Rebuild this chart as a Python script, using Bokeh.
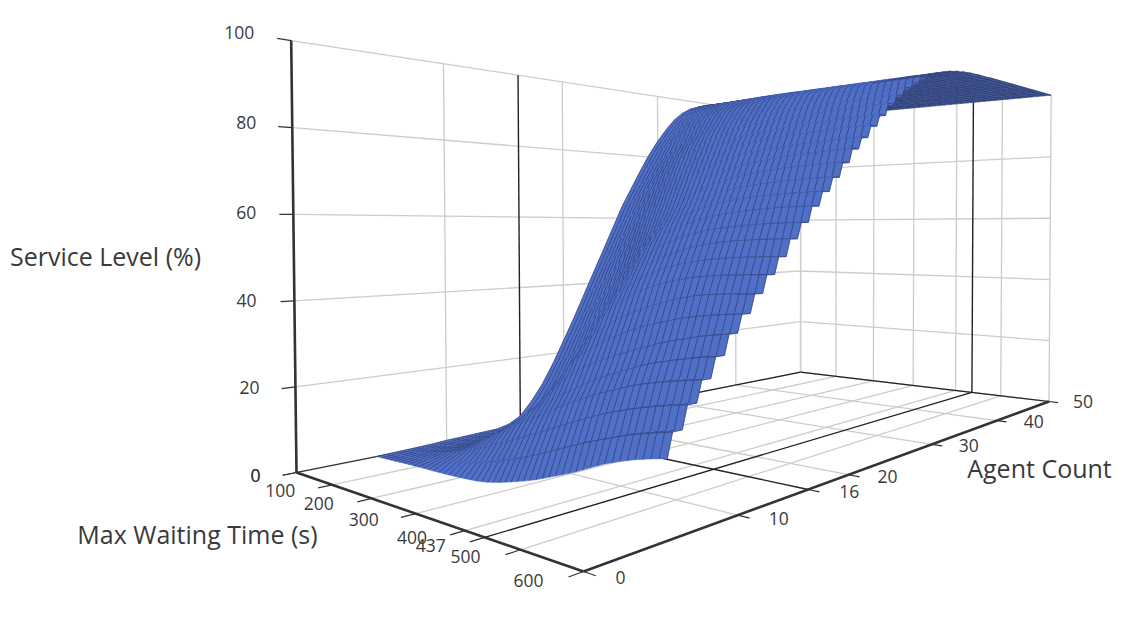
from bokeh.plotting import figure
from bokeh.embed import file_html
from bokeh.resources import INLINE
from bokeh.core.properties import value
import numpy as np

# ---- data -----------------------------------------------------------------
wait_ticks = [0, 100, 200, 300, 400, 500, 600]
agent_ticks = [0, 10, 20, 30, 40, 50]
level_ticks = [0, 20, 40, 60, 80, 100]
pointer_wait = 437
pointer_agent = 16
wait_values = [0, 25, 50, 75, 100, 125, 150, 175, 200, 225, 250, 275, 300, 325, 350, 375, 400, 425, 450, 475, 500, 525, 550, 575, 600]
agent_values = [5, 6, 7, 8, 9, 10, 11, 12, 13, 14, 15, 16, 17, 18, 19, 20, 21, 22, 23, 24, 25, 26, 27, 28, 29, 30, 31, 32, 33, 34, 35, 36, 38, 40, 42, 44, 46, 48, 50]
a05 = [0,.1,.2,.3,.4,.45,.5,.55,.65,.8,1,1.4,2.1,2.9,3.8,4.8,6,7.2,8.5,10,11.4,12.5,13.5,14.3,15]
a06 = [.1,.2,.4,.7,1.1,1.5,2,2.5,3.1,3.8,4.6,5.5,6.5,7.5,8.7,10,11.3,12.6,13.9,15,16.1,17.2,18.1,18.9,19.6]
a07 = [.2,.4,.7,1.2,1.9,2.7,3.6,4.6,5.7,7,8.2,9.5,10.8,12.1,13.5,14.9,16.3,17.6,18.9,20,21,21.9,22.7,23.4,24]
a08 = [.3,.5,.9,1.5,2.3,3.4,4.7,6.4,8.2,10,11.8,13.3,14.8,16.5,18.1,19.6,21,22.3,23.4,24.6,25.5,26.3,27,27.6,28.1]
a09 = [.4,.6,1,1.6,2.6,3.9,5.5,7.5,9.8,12,14.2,16.2,18,19.8,21.6,23.2,24.7,26,27.2,28.4,29.4,30.2,30.9,31.6,32.1]
a10 = [.6,.8,1.2,1.9,2.9,4.2,6,8.4,11.2,13.8,16.8,19.8,22.5,24.6,26.2,27.7,29,30.2,31.3,32.4,33.4,34.2,35,35.6,36.1]
a11 = [.7,.9,1.4,2.2,3.3,4.8,6.9,9.6,13,16.6,20.4,24,27,29.2,31,32.6,34,35.2,36.2,37.1,37.9,38.5,39,39.4,39.7]
a12 = [.8,1,1.6,2.5,3.7,5.4,7.7,11,15.2,19.6,23.8,27.8,31.5,33.8,35.7,37.3,38.6,39.8,40.8,41.7,42.4,42.8,43.1,43.3,43.5]
a13 = [.9,1.2,1.9,2.9,4.3,6.2,9,13,18,23.4,28.4,32.8,36.4,38.8,40.8,42.4,43.6,44.6,45.4,46,46.4,46.7,46.9,47.1,47.2]
a14 = [1,1.5,2.4,3.6,5.3,7.6,11,15.6,21.4,27.4,33,37.4,40.6,43,45,46.4,47.6,48.5,49.2,49.7,50.1,50.4,50.6,50.7,50.8]
a15 = [1.7,2.3,3.4,5,7.2,10,13.8,19,25.4,31.6,37.2,41.6,44.8,47.1,48.9,50.3,51.4,52.3,53,53.5,53.9,54.1,54.3,54.4,54.5]
a16 = [3.4,4,5.2,7.2,10,13.4,18,23.6,30,36.4,42,46,49,51.2,52.9,54.2,55.2,56,56.6,57,57.3,57.6,57.8,57.9,58]
a17 = [7.1,7.7,9,11.2,14.2,18.2,23.6,29.6,36,42,46.8,50.4,53.2,55.2,56.8,58,58.9,59.6,60.2,60.6,60.9,61.2,61.4,61.5,61.6]
a18 = [11.6,12.6,14.5,17.2,20.5,24.7,30,35.8,41.6,46.8,51,54.4,57,59,60.4,61.5,62.4,63.1,63.6,64,64.3,64.5,64.7,64.8,64.9]
a19 = [17.2,18.4,20.4,23.2,26.6,30.8,35.8,41.2,46.4,51,55,58.2,60.6,62.4,63.8,64.9,65.8,66.4,66.9,67.3,67.6,67.8,68,68.1,68.2]
a20 = [23.5,24.8,27,30,33.6,37.8,42.4,47.4,52,56,59.4,62.2,64.4,66.2,67.5,68.5,69.3,69.9,70.4,70.8,71.1,71.3,71.5,71.6,71.7]
a21 = [29.9,31.3,33.6,36.6,40.2,44.4,49,53.6,57.8,61.4,64.4,66.8,68.8,70.2,71.3,72.1,72.8,73.3,73.7,74.1,74.4,74.6,74.8,75,75.1]
a22 = [36.7,38.2,40.6,43.6,47.2,51.4,55.8,60,63.6,66.6,69.1,71.1,72.7,74,75,75.7,76.2,76.6,76.9,77.2,77.4,77.6,77.8,77.9,78]
a23 = [43.5,45,47.4,50.4,54,58.2,62.2,65.8,69,71.6,73.8,75.4,76.8,77.8,78.6,79.1,79.5,79.9,80.2,80.4,80.6,80.8,80.9,81,81]
a24 = [50.2,51.7,54,57,60.6,64.4,68,71.2,73.9,76,77.8,79.1,80.2,81,81.6,82.1,82.5,82.8,83.1,83.3,83.5,83.6,83.7,83.8,83.9]
a25 = [57,58.4,60.6,63.4,66.8,70.2,73.4,76.2,78.4,80.3,81.8,82.9,83.8,84.5,85,85.4,85.7,86,86.2,86.4,86.6,86.7,86.8,86.9,87]
a26 = [63.8,65,67,69.6,72.6,75.6,78.4,80.8,82.8,84.2,85.4,86.2,86.9,87.4,87.8,88.1,88.4,88.6,88.8,89,89.1,89.2,89.3,89.4,89.5]
a27 = [69.5,70.5,72.2,74.6,77.2,79.8,82.2,84.2,85.8,87,88,88.7,89.3,89.8,90.2,90.5,90.7,90.9,91.1,91.3,91.4,91.5,91.6,91.7,91.8]
a28 = [75.2,76.1,77.6,79.5,81.6,83.8,85.8,87.4,88.8,89.8,90.5,91,91.4,91.8,92.1,92.3,92.5,92.7,92.9,93,93.1,93.2,93.3,93.4,93.5]
a29 = [80.6,81.5,83,84.8,86.5,88.2,89.6,90.8,91.7,92.4,92.9,93.3,93.6,93.9,94.1,94.3,94.5,94.6,94.7,94.8,94.9,95,95.1,95.1,95.2]
a30 = [85.3,86,87.2,88.8,90.2,91.5,92.4,93.1,93.7,94.1,94.5,94.8,95,95.2,95.4,95.5,95.6,95.7,95.8,95.9,96,96,96.1,96.1,96.2]
a31 = [89.4,90,91,92,93,93.7,94.3,94.8,95.2,95.5,95.7,95.9,96.1,96.2,96.3,96.4,96.5,96.6,96.7,96.7,96.8,96.8,96.9,96.9,97]
a32 = [93,93.4,94.1,94.8,95.3,95.8,96.2,96.5,96.7,96.9,97,97.1,97.2,97.3,97.4,97.5,97.6,97.6,97.7,97.7,97.8,97.8,97.9,97.9,98]
a33 = [95.6,95.8,96.2,96.6,97,97.3,97.5,97.7,97.9,98,98.1,98.2,98.2,98.3,98.3,98.4,98.4,98.5,98.5,98.6,98.6,98.7,98.7,98.8,98.8]
a34 = [97.4,97.5,97.7,97.9,98.1,98.3,98.4,98.5,98.6,98.7,98.7,98.8,98.8,98.9,98.9,99,99,99,99.1,99.1,99.2,99.2,99.2,99.3,99.3]
a35 = [98.5,98.6,98.7,98.8,98.9,99,99,99.1,99.1,99.2,99.2,99.2,99.3,99.3,99.3,99.4,99.4,99.4,99.4,99.5,99.5,99.5,99.5,99.6,99.6]
a36 = [99.4,99.4,99.5,99.5,99.5,99.5,99.6,99.6,99.6,99.6,99.6,99.6,99.7,99.7,99.7,99.7,99.7,99.7,99.7,99.8,99.8,99.8,99.8,99.8,99.8]
a38 = [99.8,99.8,99.8,99.8,99.8,99.8,99.8,99.8,99.8,99.8,99.9,99.9,99.9,99.9,99.9,99.9,99.9,99.9,99.9,99.9,99.9,99.9,99.9,99.9,99.9]
a40 = [99.9,99.9,99.9,99.9,99.9,99.9,99.9,99.9,99.9,99.9,99.9,99.9,99.9,99.9,99.9,99.9,99.9,99.9,99.9,99.9,99.9,100,100,100,100]
a42 = [100,100,100,100,100,100,100,100,100,100,100,100,100,100,100,100,100,100,100,100,100,100,100,100,100]
a44 = [100,100,100,100,100,100,100,100,100,100,100,100,100,100,100,100,100,100,100,100,100,100,100,100,100]
a46 = [100,100,100,100,100,100,100,100,100,100,100,100,100,100,100,100,100,100,100,100,100,100,100,100,100]
a48 = [100,100,100,100,100,100,100,100,100,100,100,100,100,100,100,100,100,100,100,100,100,100,100,100,100]
a50 = [100,100,100,100,100,100,100,100,100,100,100,100,100,100,100,100,100,100,100,100,100,100,100,100,100]
service_level = np.array([a05,a06,a07,a08,a09,a10,a11,a12,a13,a14,a15,a16,a17,a18,a19,a20,a21,a22,a23,a24,a25,a26,a27,a28,a29,a30,a31,a32,a33,a34,a35,a36,a38,a40,a42,a44,a46,a48,a50], dtype=float)

# ---- camera (perspective projection of the 3D box on to the page) ----------
CAM = np.array([[1062.2, 118.1, -8.5, 296.0],
                [159.0, -66.4, -432.4, 472.0],
                [0.6977, -0.2897, -0.011, 1.0]])

def project(a, w, z):
    a, w, z = np.broadcast_arrays(np.asarray(a, float), np.asarray(w, float), np.asarray(z, float))
    h = CAM @ np.stack([a / 50, w / 600, z / 100, np.ones_like(a, dtype=float)])
    return h[0] / h[2], h[1] / h[2]

W, H = 1116, 606
p = figure(width=W, height=H, x_range=(0, W), y_range=(H, 0), output_backend="svg",
           toolbar_location=None, min_border=0)
p.axis.visible = False
p.grid.visible = False
p.outline_line_color = None
p.background_fill_color = "#ffffff"

GRID, INK, AXIS = "#cccccc", "#222222", "#333333"
BLUE, DARK, MESH = "#5070c8", "#3d5090", "#2a3866"

def seg(a0, w0, z0, a1, w1, z1, color, width):
    x, y = project([a0, a1], [w0, w1], [z0, z1])
    p.line(list(x), list(y), line_color=color, line_width=width)

# grid on the floor and on both walls
for a in agent_ticks:
    seg(a, 0, 0, a, 600, 0, GRID, 1.3)
    seg(a, 0, 0, a, 0, 100, GRID, 1.3)
for w in wait_ticks:
    seg(0, w, 0, 50, w, 0, GRID, 1.3)
    seg(50, w, 0, 50, w, 100, GRID, 1.3)
for z in level_ticks:
    seg(0, 0, z, 50, 0, z, GRID, 1.3)
    seg(50, 0, z, 50, 600, z, GRID, 1.3)

# back edges and pointer lines
seg(0, 0, 0, 50, 0, 0, INK, 1.2)
seg(50, 0, 0, 50, 600, 0, INK, 1.2)
seg(pointer_agent, 0, 0, pointer_agent, 600, 0, INK, 1.4)
seg(pointer_agent, 0, 0, pointer_agent, 0, 100, INK, 1.4)
seg(0, pointer_wait, 0, 50, pointer_wait, 0, INK, 1.4)
seg(50, pointer_wait, 0, 50, pointer_wait, 100, INK, 1.4)

# surface, painted from the far row to the near row
waits = np.array(wait_values, float)
TERRACE = 0.65
DARK_ROW, DARK_PART_ROW, DARK_PART_WAIT = 34, 29, 500

def strip(xa, ya, xb, yb, split):
    xs, ys, cs = [], [], []
    if split > 0:
        xs.append(list(xa[:split + 1]) + list(xb[:split + 1])[::-1])
        ys.append(list(ya[:split + 1]) + list(yb[:split + 1])[::-1])
        cs.append(BLUE)
    if split < len(xa) - 1:
        xs.append(list(xa[split:]) + list(xb[split:])[::-1])
        ys.append(list(ya[split:]) + list(yb[split:])[::-1])
        cs.append(DARK)
    p.patches(xs, ys, fill_color=cs, line_color=cs, line_width=0.5)
    # mesh lines of constant waiting time, also half way between two columns
    mx, my = [], []
    for j in range(len(xa)):
        mx.append([xa[j], xb[j]])
        my.append([ya[j], yb[j]])
        if j + 1 < len(xa):
            mx.append([(xa[j] + xa[j + 1]) / 2, (xb[j] + xb[j + 1]) / 2])
            my.append([(ya[j] + ya[j + 1]) / 2, (yb[j] + yb[j + 1]) / 2])
    p.multi_line(mx, my, line_color=MESH, line_width=0.8, line_alpha=0.85)

for i in range(len(agent_values) - 2, -1, -1):
    a0, a1 = agent_values[i], agent_values[i + 1]
    near, far = service_level[i], service_level[i + 1]
    a_mid = a0 + (a1 - a0) * (1 - TERRACE * waits / 600)
    if a0 >= DARK_ROW:
        split = 0
    elif a0 >= DARK_PART_ROW:
        split = wait_values.index(DARK_PART_WAIT)
    else:
        split = len(waits) - 1
    xa, ya = project(a_mid, waits, far)
    xb, yb = project(a1, waits, far)
    strip(xa, ya, xb, yb, split)
    xn, yn = project(a0, waits, near)
    strip(xn, yn, xa, ya, split)
    # the row line, stronger towards the long waits and the low rows
    sx = [[xa[j], xa[j + 1]] for j in range(len(xa) - 1)]
    sy = [[ya[j], ya[j + 1]] for j in range(len(xa) - 1)]
    fade = max(0.12, 1 - a0 / 26)
    alpha = list(np.clip((waits[1:] / 600) ** 1.6, 0.05, 1) * 0.85 * fade)
    p.multi_line(sx, sy, line_color=MESH, line_width=1.0, line_alpha=alpha)

# axes
seg(0, 0, 0, 0, 0, 100, AXIS, 2.6)
seg(0, 0, 0, 0, 600, 0, AXIS, 2.6)
seg(0, 600, 0, 50, 600, 0, AXIS, 2.6)

def tick(a0, w0, z0, a1, w1, z1):
    seg(a0, w0, z0, a1, w1, z1, AXIS, 1.2)

for z in level_ticks:
    tick(0, 0, z, -0.8, 0, z)
for w in wait_ticks + [pointer_wait]:
    tick(0, w, 0, -0.8, w, 0)
for a in agent_ticks + [pointer_agent]:
    tick(a, 600, 0, a, 618, 0)

font = value("Open Sans")

def label(a, w, z, text, dx, dy, color="#3a3a3a", size="17.5px"):
    x, y = project(a, w, z)
    p.text([float(x) + dx], [float(y) + dy - 1], text=[text], text_font=font, text_font_size=size,
           text_color=color, text_align="center", text_baseline="middle")

level_offsets = {0: (-41, 4), 20: (-46, 2), 40: (-48, 1), 60: (-47, -1), 80: (-46, -4), 100: (-52, -7)}
for z in level_ticks:
    label(0, 0, z, str(z), *level_offsets[z])
wait_offsets = {0: (-41, 4), 100: (-52, 7), 200: (-53, 6), 300: (-52, 7), 400: (-53, 8), 437: (-54, 9), 500: (-55, 8), 600: (-55, 10)}
for w in wait_ticks + [pointer_wait]:
    label(0, w, 0, str(w), *wait_offsets[w])
agent_offsets = {0: (37, 7), 10: (41, 4), 16: (41, 3), 20: (39, 3), 30: (37, 2), 40: (37, 2), 50: (34, 1)}
for a in agent_ticks + [pointer_agent]:
    label(a, 600, 0, str(a), *agent_offsets[a])

for text, x, y in [("Service Level (%)", 105, 255), ("Max Waiting Time (s)", 197, 533), ("Agent Count", 1039, 467)]:
    p.text([x], [y], text=[text], text_font=font, text_font_size="25px", text_color="#3a3a3a",
           text_align="center", text_baseline="middle")

open("out.html", "w").write(file_html(p, INLINE))
